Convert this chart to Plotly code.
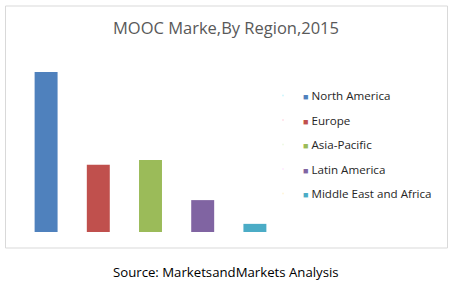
import plotly.graph_objects as go

regions = ["North America", "Europe", "Asia-Pacific", "Latin America", "Middle East and Africa"]
shares = [47.2, 19.8, 21.2, 9.4, 2.4]  # relative market size (estimated, % of total)
colors = ["#4f81bd", "#c0504d", "#9bbb59", "#8064a2", "#4bacc6"]
title_text = "MOOC Marke,By Region,2015"
source_text = "Source: MarketsandMarkets Analysis"

fig = go.Figure()
for i, (r, v, c) in enumerate(zip(regions, shares, colors)):
    fig.add_trace(go.Bar(x=[i], y=[v], marker=dict(color=c, line=dict(width=0)),
                         width=0.44, showlegend=False, hoverinfo="skip"))
for r, c in zip(regions, colors):
    fig.add_trace(go.Scatter(
        x=[None], y=[None], mode="markers",
        marker=dict(size=1, opacity=0),
        name=f'<span style="color:{c};font-size:9px">■</span> {r}',
        legendgroup=r, showlegend=True))

L, R, T, B = 20, 172, 40, 61
W, H = 453, 293
pw = W - L - R
ph = H - T - B

def px_x(p):
    return (p - L) / pw

def px_y(p):
    return (H - B - p) / ph

fig.update_layout(
    width=W, height=H,
    margin=dict(l=L, r=R, t=T, b=B, pad=0),
    paper_bgcolor="white", plot_bgcolor="white",
    barmode="overlay",
    xaxis=dict(range=[-0.5, 4.5], visible=False, fixedrange=True),
    yaxis=dict(range=[0, 56.6], visible=False, fixedrange=True),
    font=dict(family="Open Sans, sans-serif", size=11, color="#262626"),
    title=dict(text=title_text, x=226 / W, xanchor="center", xref="container",
               y=1 - 28 / H, yanchor="middle", yref="container",
               font=dict(size=16.5, color="#595959", family="Open Sans, sans-serif")),
    legend=dict(x=px_x(263), xanchor="left", y=px_y(81), yanchor="top",
                font=dict(size=11.6, color="#262626"), tracegroupgap=5.5,
                itemwidth=30, bgcolor="rgba(0,0,0,0)"),
    shapes=[dict(type="rect", xref="paper", yref="paper",
                 x0=px_x(5.5), x1=px_x(447.5), y0=px_y(248), y1=px_y(6),
                 line=dict(color="#d9d9d9", width=1), fillcolor="rgba(0,0,0,0)", layer="below")],
    annotations=[dict(text=source_text, xref="paper", yref="paper",
                      x=px_x(226), y=px_y(272), xanchor="center", yanchor="middle",
                      showarrow=False, font=dict(size=13.2, color="#000000"))],
)

fig.write_html("out.html")
